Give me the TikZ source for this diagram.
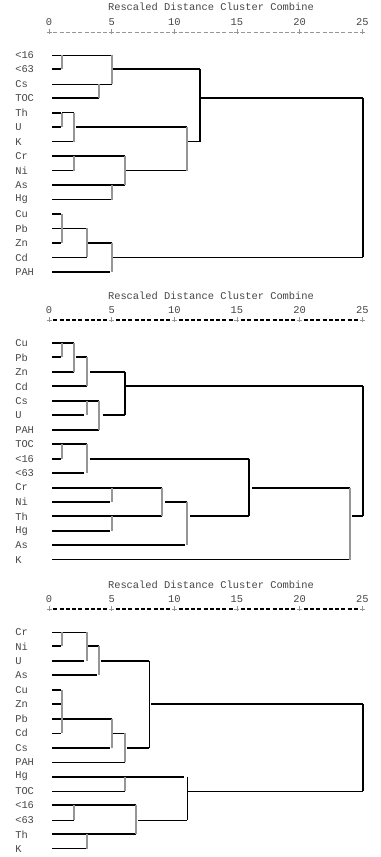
\documentclass[tikz,border=0pt]{standalone}
\usepackage{fontspec}
\setmonofont{Liberation Mono}
\usepackage{tikz}
\definecolor{cTxt}{RGB}{70,70,70}
\definecolor{cJoin}{RGB}{150,150,150}
\tikzset{
	lbl/.style   ={anchor=west, inner sep=0pt, text=cTxt},
	tick/.style  ={inner sep=0pt, text=cTxt},
	ttl/.style   ={inner sep=0pt, text=cTxt},
	tk/.style    ={line width=1.5pt, black},
	tn/.style    ={line width=0.55pt, black},
	vg/.style    ={line width=0.8pt, cJoin},
	vb/.style    ={line width=1.5pt, black},
	dshthin/.style={line width=0.5pt, cJoin},
	dshbold/.style={line width=1.4pt, black},
	plus/.style  ={line width=0.5pt, cJoin},
}

\begin{document}
\begin{tikzpicture}[x=0.75pt, y=-0.75pt, font=\ttfamily\fontsize{7.8}{9}\selectfont]
	\useasboundingbox (0,0) rectangle (381,857);
	% panel 1
	\begin{scope}[yshift=-30.41pt, y=-10.84pt]
		\node[ttl] (ttlA) at (211,-2.35) {Rescaled Distance Cluster Combine};
		\foreach \v in {0,5,...,25} \node[tick] (tkA\v) at ({49+12.53*\v},-1.3) {\v};
		\foreach \k in {0,...,4} \foreach \j in {1,...,9}
			\draw[dshthin] ({49+62.65*\k+6.265*\j-2},-0.6) -- ++(4,0);
		\foreach \k in {0,...,5} {
			\draw[plus] ({49+62.65*\k-2.5},-0.6) -- ++(5,0);
			\draw[plus] ({49+62.65*\k},-0.78) -- ++(0,0.36);
		}
		\foreach \n [count=\r] in {<16,<63,Cs,TOC,Th,U,K,Cr,Ni,As,Hg,Cu,Pb,Zn,Cd,PAH}
			\node[lbl] (lA\r) at (15,\r) {\n};
		\foreach \a/\b/\r in {52/61/2, 113/200/2, 52/99/4, 52/61/5, 52/61/6, 76/187/6, 52/125/8, 52/125/10,
			200/363/4, 52/61/12, 52/61/14, 88/112/14, 52/110/16}
			\draw[tk] (\a,\r) -- (\b,\r);
		\foreach \a/\b/\r in {52/112/1, 52/112/3, 62/74/5, 52/74/7, 52/74/9, 125/187/9, 52/112/11, 52/87/13,
			52/87/15, 188/200/7, 112/363/15}
			\draw[tn] (\a,\r) -- (\b,\r);
		\foreach \x/\p/\q in {62/1/2, 112/1/3, 99/3/4, 62/5/6, 74/5/7, 74/8/9, 125/8/10, 112/10/11, 187/6/9,
			62/12/14, 87/13/15, 112/14/16}
			\draw[vg] (\x,\p) -- (\x,\q);
		\foreach \x/\p/\q in {200/2/7, 363/4/15}
			\draw[vb] (\x,\p) -- (\x,\q);
	\end{scope}
	% panel 2
	\begin{scope}[yshift=-246.41pt, y=-10.84pt]
		\node[ttl] (ttlB) at (211,-2.3) {Rescaled Distance Cluster Combine};
		\foreach \v in {0,5,...,25} \node[tick] (tkB\v) at ({49+12.53*\v},-1.3) {\v};
		\foreach \k in {0,...,4} \foreach \j in {1,...,9}
			\draw[dshbold] ({49+62.65*\k+6.265*\j-2},-0.6) -- ++(4,0);
		\foreach \k in {0,...,5} {
			\draw[plus] ({49+62.65*\k-2.5},-0.6) -- ++(5,0);
			\draw[plus] ({49+62.65*\k},-0.78) -- ++(0,0.36);
		}
		\foreach \n [count=\r] in {Cu,Pb,Zn,Cd,Cs,U,PAH,TOC,<16,<63,Cr,Ni,Th,Hg,As,K}
			\node[lbl] (lB\r) at (15,\r) {\n};
		\foreach \a/\b/\r in {52/74/1, 52/61/2, 52/74/3, 76/87/2, 52/87/4, 90/125/3, 125/363/4, 52/99/5,
			52/84/6, 52/99/7, 103/125/6, 52/87/8, 52/61/9, 52/84/10, 90/249/9, 52/162/11, 52/110/12,
			52/162/13, 52/110/14, 165/187/12, 52/185/15, 190/249/13, 252/350/11, 352/363/13}
			\draw[tk] (\a,\r) -- (\b,\r);
		\draw[tn] (52,16) -- (350,16);
		\foreach \x/\p/\q in {62/1/2, 74/1/3, 87/2/4, 87/5/6, 99/5/7, 62/8/9, 87/8/10, 112/11/12,
			112/13/14, 162/11/13, 187/12/15, 350/11/16}
			\draw[vg] (\x,\p) -- (\x,\q);
		\foreach \x/\p/\q in {125/3/6, 249/9/13, 363/4/13}
			\draw[vb] (\x,\p) -- (\x,\q);
	\end{scope}
	% panel 3
	\begin{scope}[yshift=-463.16pt, y=-10.84pt]
		\node[ttl] (ttlC) at (211,-2.3) {Rescaled Distance Cluster Combine};
		\foreach \v in {0,5,...,25} \node[tick] (tkC\v) at ({49+12.53*\v},-1.3) {\v};
		\foreach \k in {0,...,4} \foreach \j in {1,...,9}
			\draw[dshbold] ({49+62.65*\k+6.265*\j-2},-0.6) -- ++(4,0);
		\foreach \k in {0,...,5} {
			\draw[plus] ({49+62.65*\k-2.5},-0.6) -- ++(5,0);
			\draw[plus] ({49+62.65*\k},-0.78) -- ++(0,0.36);
		}
		\foreach \n [count=\r] in {Cr,Ni,U,As,Cu,Zn,Pb,Cd,Cs,PAH,Hg,TOC,<16,<63,Th,K}
			\node[lbl] (lC\r) at (15,\r) {\n};
		\foreach \a/\b/\r in {52/61/2, 52/84/3, 88/99/2, 52/97/4, 101/149/3, 52/61/5, 52/61/6, 52/112/7,
			52/110/9, 127/149/9, 151/363/6, 52/184/11, 52/136/13, 52/136/15}
			\draw[tk] (\a,\r) -- (\b,\r);
		\foreach \a/\b/\r in {52/87/1, 52/61/8, 112/125/8, 52/125/10, 52/125/12, 188/363/12, 52/74/14,
			138/187/14, 52/87/16}
			\draw[tn] (\a,\r) -- (\b,\r);
		\foreach \x/\p/\q in {62/1/2, 87/1/3, 99/2/4, 62/5/8, 112/7/9, 125/8/10, 125/11/12, 74/13/14,
			136/13/15, 87/15/16}
			\draw[vg] (\x,\p) -- (\x,\q);
		\foreach \x/\p/\q in {149/3/9, 187/11/14}
			\draw[tn] (\x,\p) -- (\x,\q);
		\draw[vb] (363,6) -- (363,12);
	\end{scope}
\end{tikzpicture}
\end{document}
